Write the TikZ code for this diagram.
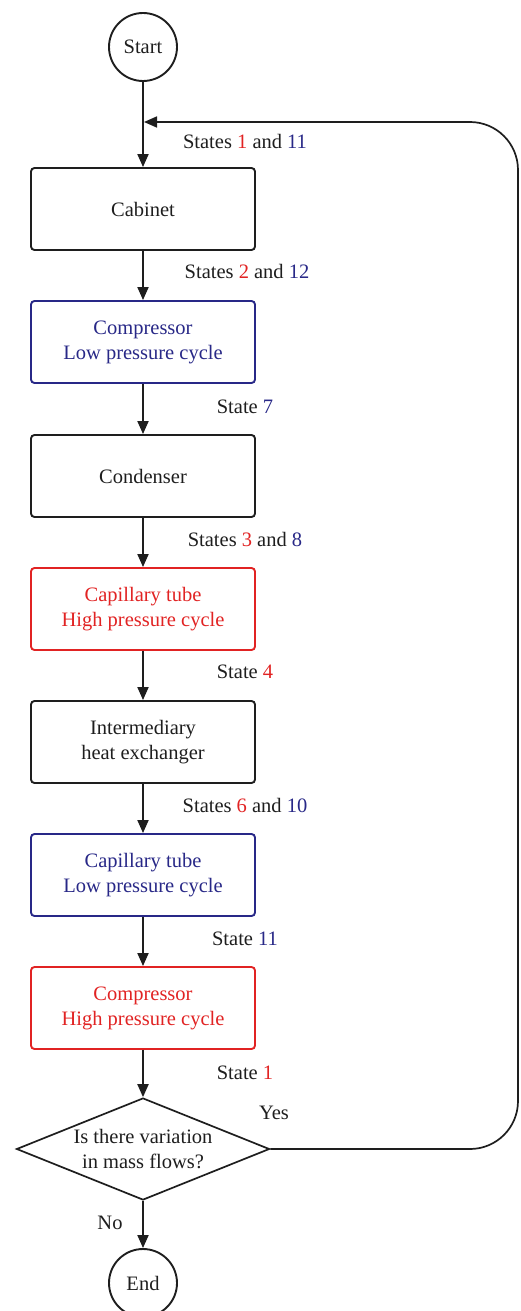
\documentclass[tikz,border=0pt]{standalone}
\usepackage{fontspec}
\setmainfont{Liberation Serif}
\usetikzlibrary{shapes.geometric,arrows.meta}
\definecolor{cred}{RGB}{225,35,35}
\definecolor{cblue}{RGB}{40,40,135}
\definecolor{cline}{RGB}{30,30,30}
\begin{document}
\begin{tikzpicture}[x=1pt,y=-1pt,
  every node/.style={font=\fontsize{20.5}{25}\selectfont, text=cline},
  term/.style={circle, draw=cline, line width=1.9pt, minimum size=68pt, inner sep=0pt},
  proc/.style={rectangle, rounded corners=3.5pt, draw=cline, line width=1.9pt, minimum width=224pt, minimum height=82pt, align=center, inner sep=0pt},
  redbox/.style={proc, draw=cred, text=cred},
  bluebox/.style={proc, draw=cblue, text=cblue},
  decision/.style={diamond, draw=cline, line width=1.7pt, minimum width=253pt, minimum height=102pt, aspect=2.48, inner sep=0pt, align=center},
  lab/.style={inner sep=0pt, anchor=base},
  flow/.style={draw=cline, line width=1.9pt, -{Triangle[length=13pt,width=11pt]}},
]
\useasboundingbox (0,0) rectangle (520,1311);
\node[term] (start) at (143,47) {Start};
\coordinate (j) at (143,122);
\node[proc] (cab) at (143,209) {Cabinet};
\node[bluebox] (comp1) at (143,342) {Compressor\\Low pressure cycle};
\node[proc] (cond) at (143,476) {Condenser};
\node[redbox] (cap1) at (143,609) {Capillary tube\\High pressure cycle};
\node[proc] (ihx) at (143,742) {Intermediary\\heat exchanger};
\node[bluebox] (cap2) at (143,875) {Capillary tube\\Low pressure cycle};
\node[redbox] (comp2) at (143,1008) {Compressor\\High pressure cycle};
\node[decision] (dec) at (143,1149) {Is there variation\\in mass flows?};
\node[term] (end) at (143,1283) {End};

\node[lab] (l1) at (245,148) {States \textcolor{cred}{1} and \textcolor{cblue}{11}};
\node[lab] (l2) at (247,278) {States \textcolor{cred}{2} and \textcolor{cblue}{12}};
\node[lab] (l3) at (245,413) {State \textcolor{cblue}{7}};
\node[lab] (l4) at (245,546) {States \textcolor{cred}{3} and \textcolor{cblue}{8}};
\node[lab] (l5) at (245,678) {State \textcolor{cred}{4}};
\node[lab] (l6) at (245,812) {States \textcolor{cred}{6} and \textcolor{cblue}{10}};
\node[lab] (l7) at (245,945) {State \textcolor{cblue}{11}};
\node[lab] (l8) at (245,1079) {State \textcolor{cred}{1}};
\node[lab] (yes) at (274,1119) {Yes};
\node[lab] (no) at (110,1229) {No};

\draw[flow] (start) -- (cab);
\draw[flow] (cab) -- (comp1);
\draw[flow] (comp1) -- (cond);
\draw[flow] (cond) -- (cap1);
\draw[flow] (cap1) -- (ihx);
\draw[flow] (ihx) -- (cap2);
\draw[flow] (cap2) -- (comp2);
\draw[flow] (comp2) -- (dec);
\draw[flow] (dec) -- (end);
\coordinate (rb) at (518,1149);
\coordinate (rt) at (518,122);
\draw[flow, line width=1.7pt, rounded corners=48pt] (dec.east) -- (rb) -- (rt) -- ([xshift=1pt]j);
\end{tikzpicture}
\end{document}
